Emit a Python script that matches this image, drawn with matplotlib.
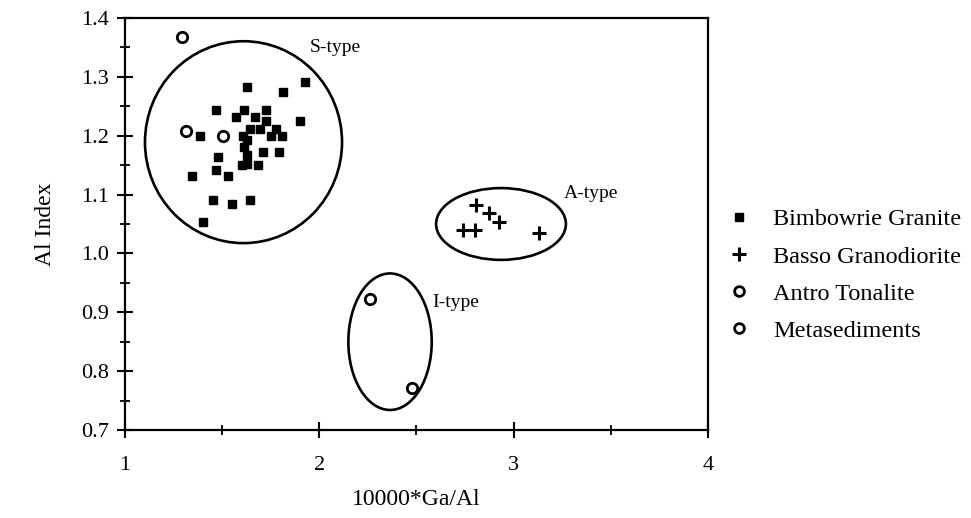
import matplotlib
matplotlib.use('Agg')
import matplotlib.pyplot as plt
from matplotlib.patches import Ellipse
from matplotlib.lines import Line2D

plt.rcParams['font.family'] = ['Liberation Serif', 'DejaVu Serif']

# Bimbowrie Granite (filled squares)
bimb_x = [1.926, 1.626, 1.815, 1.467, 1.612, 1.724, 1.570, 1.669, 1.724, 1.901,
          1.643, 1.695, 1.776, 1.386, 1.609, 1.750, 1.810, 1.626, 1.612, 1.712,
          1.793, 1.629, 1.480, 1.626, 1.601, 1.683, 1.467, 1.532, 1.343, 1.454,
          1.643, 1.549, 1.400]
bimb_y = [1.292, 1.282, 1.274, 1.243, 1.243, 1.243, 1.232, 1.232, 1.225, 1.225,
          1.211, 1.211, 1.211, 1.200, 1.200, 1.200, 1.200, 1.192, 1.181, 1.173,
          1.173, 1.167, 1.164, 1.152, 1.150, 1.150, 1.141, 1.132, 1.132, 1.091,
          1.091, 1.084, 1.054]

# Basso Granodiorite (plus)
basso_x = [2.806, 2.873, 2.926, 2.741, 2.801, 3.132]
basso_y = [1.083, 1.068, 1.054, 1.040, 1.040, 1.034]

# Antro Tonalite (open circles)
antro_x = [2.261, 2.475]
antro_y = [0.922, 0.772]

# Metasediments (open circles)
meta_x = [1.295, 1.312, 1.506]
meta_y = [1.368, 1.208, 1.200]

# field ellipses: (centre x, centre y, width, height, label, label x, label y)
fields = [
    (1.610, 1.189, 1.014, 0.343, 'S-type', 1.95, 1.349),
    (2.935, 1.050, 0.668, 0.122, 'A-type', 3.26, 1.101),
    (2.364, 0.850, 0.429, 0.232, 'I-type', 2.58, 0.917),
]

fig = plt.figure(figsize=(9.71, 5.18), dpi=100)
ax = fig.add_axes([0.1287, 0.1699, 0.6004, 0.7954])

ax.plot(bimb_x, bimb_y, 's', color='black', markersize=6.3, linestyle='none')
ax.plot(basso_x, basso_y, '+', color='black', markersize=10, markeredgewidth=2.2, linestyle='none')
ax.plot(antro_x, antro_y, 'o', mfc='none', mec='black', markersize=7.5, markeredgewidth=2.0, linestyle='none')
ax.plot(meta_x, meta_y, 'o', mfc='none', mec='black', markersize=7.5, markeredgewidth=2.0, linestyle='none')

for cx, cy, w, h, name, tx, ty in fields:
    ax.add_patch(Ellipse((cx, cy), w, h, fill=False, edgecolor='black', linewidth=1.9))
    ax.text(tx, ty, name, fontsize=14, ha='left', va='center')

ax.set_xlim(1, 4)
ax.set_ylim(0.7, 1.4)
ax.set_xticks([1, 2, 3, 4])
ax.set_xticks([1.5, 2.5, 3.5], minor=True)
ax.set_yticks([0.7, 0.8, 0.9, 1.0, 1.1, 1.2, 1.3, 1.4])
ax.set_yticks([0.75, 0.85, 0.95, 1.05, 1.15, 1.25, 1.35], minor=True)
ax.set_yticklabels(['0.7', '0.8', '0.9', '1.0', '1.1', '1.2', '1.3', '1.4'])
ax.tick_params(which='major', direction='inout', length=11, width=1.5, labelsize=16, pad=6)
ax.tick_params(which='minor', direction='inout', length=7, width=1.3)
ax.tick_params(axis='x', which='major', pad=13)
ax.tick_params(axis='x', which='both', top=False)
ax.tick_params(axis='y', which='both', right=False)
for s in ax.spines.values():
    s.set_linewidth(1.6)

ax.set_xlabel('10000*Ga/Al', fontsize=17, labelpad=10)
ax.set_ylabel('Al Index', fontsize=17, labelpad=18)

handles = [
    Line2D([], [], marker='s', color='black', markersize=5.5, linestyle='none'),
    Line2D([], [], marker='+', color='black', markersize=10, markeredgewidth=2.2, linestyle='none'),
    Line2D([], [], marker='o', mfc='none', mec='black', markersize=7, markeredgewidth=2.0, linestyle='none'),
    Line2D([], [], marker='o', mfc='none', mec='black', markersize=7, markeredgewidth=2.0, linestyle='none'),
]
labels = ['Bimbowrie Granite', 'Basso Granodiorite', 'Antro Tonalite', 'Metasediments']
fig.legend(handles, labels, loc='center left', bbox_to_anchor=(0.726, 0.469),
           frameon=False, fontsize=17.5, handlelength=1.0, handletextpad=0.9,
           labelspacing=0.62)

fig.savefig('out.png', dpi=100)
